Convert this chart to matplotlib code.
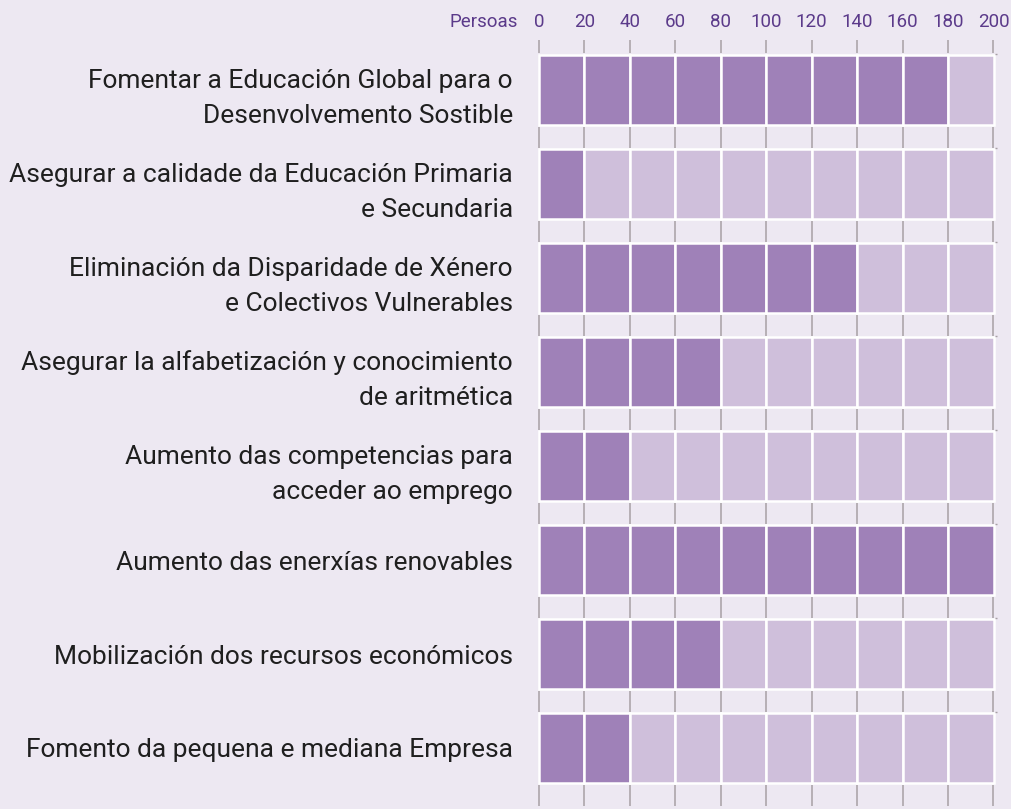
import matplotlib.pyplot as plt
import numpy as np

# data
categories = [
    'Fomentar a Educación Global para o\nDesenvolvemento Sostible',
    'Asegurar a calidade da Educación Primaria\ne Secundaria',
    'Eliminación da Disparidade de Xénero\ne Colectivos Vulnerables',
    'Asegurar la alfabetización y conocimiento\nde aritmética',
    'Aumento das competencias para\nacceder ao emprego',
    'Aumento das enerxías renovables',
    'Mobilización dos recursos económicos',
    'Fomento da pequena e mediana Empresa',
]
persoas = [180, 20, 140, 80, 40, 200, 80, 40]
step = 20
max_val = 200
tick_vals = list(range(0, max_val + 1, step))

bg = '#ede8f2'
dark = '#9f81b8'
light = '#cfbfdb'
tick_col = '#a79fa5'
label_col = '#5b3a8a'

plt.rcParams['font.family'] = ['Roboto', 'DejaVu Sans']

fig = plt.figure(figsize=(10.11, 8.09), dpi=100, facecolor=bg)
px = 454.5 / max_val  # pixels per unit
ax = fig.add_axes([(539 - 2 * px) / 1011, 0, (454.5 + 4 * px) / 1011, 1])
ax.set_facecolor(bg)
ax.set_xlim(-2, max_val + 2)
ax.set_ylim((809 - 90) / 94, -90 / 94)

# cells
lefts = np.arange(0, max_val, step)
for i, v in enumerate(persoas):
    colors = [dark if l + step <= v else light for l in lefts]
    ax.barh([i] * len(lefts), [step] * len(lefts), left=lefts, height=0.755,
            color=colors, edgecolor='white', linewidth=1.8)

# tick marks in the gaps between rows
ax.vlines(tick_vals, -0.53, -0.395, color=tick_col, lw=1.1)
for i in range(len(persoas)):
    ax.vlines(tick_vals, i + 0.395, i + 0.617, color=tick_col, lw=1.1)
    ax.hlines(i - 0.383, max_val + 0.6, max_val + 1.6, color=tick_col, lw=1)

# top labels
for t in tick_vals:
    ax.text(t, -0.72, str(t), ha='center', va='center', fontsize=13.5, color=label_col)
ax.text(-9.2, -0.72, 'Persoas', ha='right', va='center', fontsize=13.5, color=label_col)

ax.set_yticks(range(len(categories)))
ax.set_yticklabels(categories, fontsize=19, color='#1f1f1f', linespacing=1.58,
                   multialignment='right')
ax.tick_params(axis='y', length=0, pad=15.5)
ax.set_xticks([])
for s in ax.spines.values():
    s.set_visible(False)

plt.savefig('out.png', dpi=100, facecolor=bg)
